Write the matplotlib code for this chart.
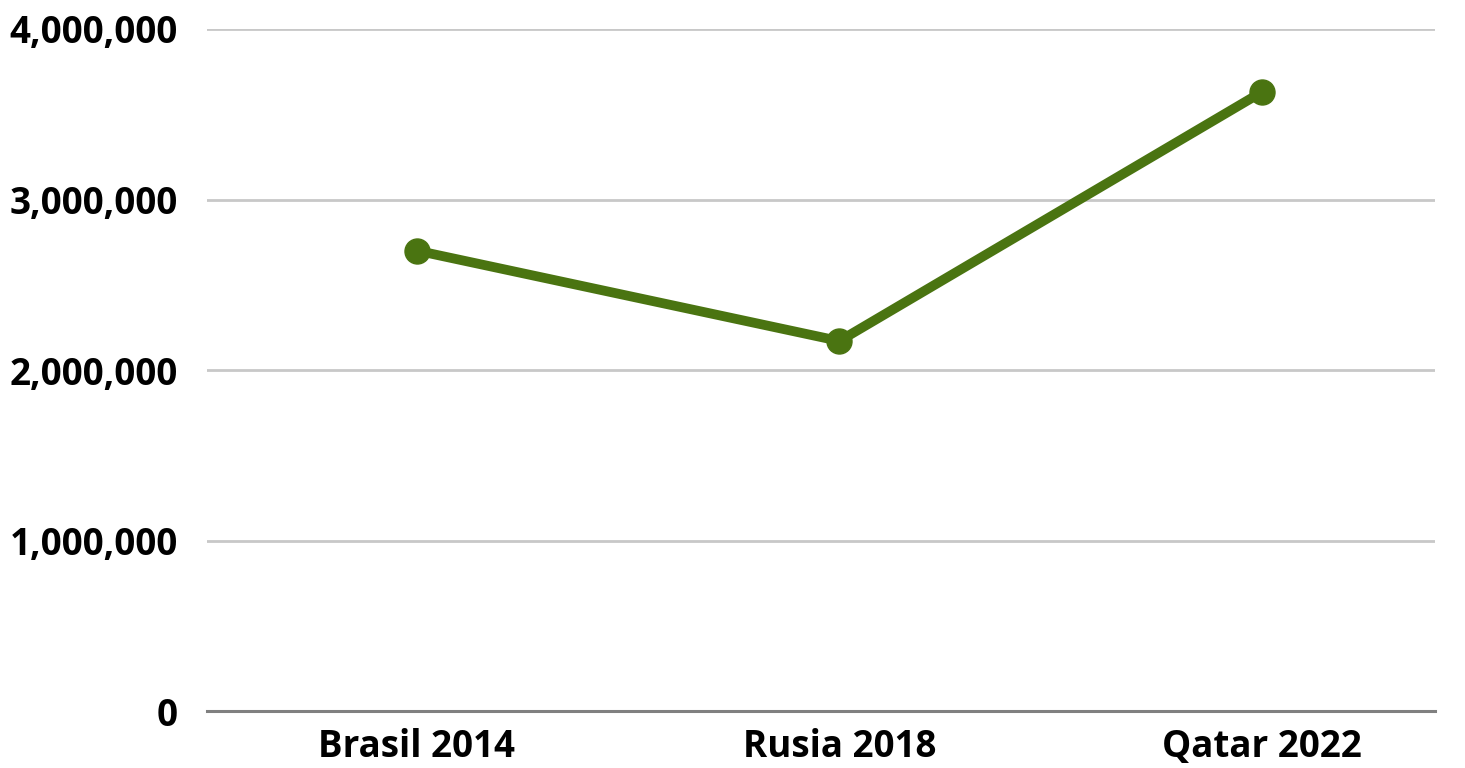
import matplotlib.pyplot as plt
from matplotlib.ticker import FuncFormatter

categories = ["Brasil 2014", "Rusia 2018", "Qatar 2022"]
values = [2700000, 2170000, 3630000]
y_ticks = [0, 1000000, 2000000, 3000000, 4000000]

plt.rcParams['font.family'] = ['Open Sans', 'DejaVu Sans']

fig = plt.figure(figsize=(14.65, 7.68), dpi=100)
ax = fig.add_axes([207 / 1465, 1 - 711 / 768, 1228 / 1465, 682 / 768])

x = list(range(len(categories)))
ax.plot(x, values, color='#4a7411', linewidth=7, marker='o', markersize=18,
        solid_capstyle='round', zorder=3)

ax.set_xlim(-0.497, 2.41)
ax.set_ylim(0, 4000000)
ax.set_yticks(y_ticks)
ax.yaxis.set_major_formatter(FuncFormatter(lambda v, p: f"{int(v):,}"))
ax.set_xticks(x)
ax.set_xticklabels(categories)

ax.grid(axis='y', color='#c8c8c8', linewidth=2)
ax.set_axisbelow(True)
for s in ['top', 'right', 'left']:
    ax.spines[s].set_visible(False)
ax.spines['bottom'].set_color('#808080')
ax.spines['bottom'].set_linewidth(2.2)

ax.tick_params(axis='y', length=0, pad=21, labelsize=26.5)
ax.tick_params(axis='x', length=0, pad=12, labelsize=26.5)
for lbl in ax.get_xticklabels() + ax.get_yticklabels():
    lbl.set_fontweight('bold')

fig.savefig('out.png', dpi=100)
